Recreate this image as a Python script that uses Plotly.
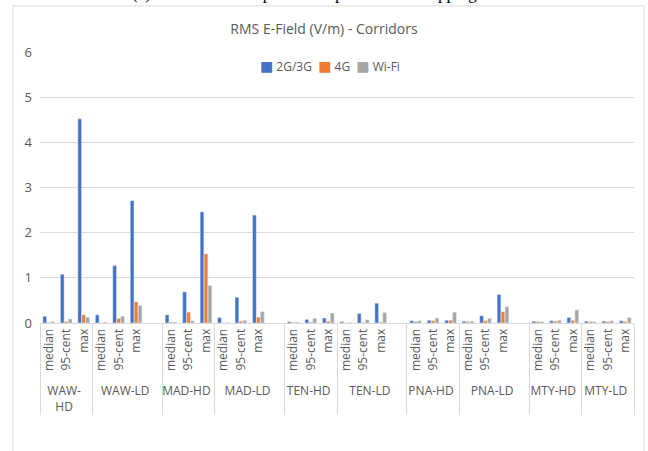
import plotly.graph_objects as go

# sites (outer labels) and stats (inner labels)
sites = ['WAW-<br>HD', 'WAW-LD', 'MAD-HD', 'MAD-LD', 'TEN-HD',
         'TEN-LD', 'PNA-HD', 'PNA-LD', 'MTY-HD', 'MTY-LD']
stats = ['median', '95-cent', 'max']

# values per site: [median, 95-cent, max]
g2g3g = [[0.15, 1.08, 4.52], [0.18, 1.27, 2.71], [0.18, 0.69, 2.46], [0.12, 0.57, 2.39],
         [0.03, 0.08, 0.11], [0.03, 0.21, 0.44], [0.05, 0.06, 0.06], [0.04, 0.16, 0.63],
         [0.04, 0.05, 0.12], [0.04, 0.04, 0.05]]
g4g = [[0.01, 0.03, 0.18], [0.00, 0.10, 0.47], [0.02, 0.24, 1.53], [0.00, 0.04, 0.13],
       [0.01, 0.02, 0.04], [0.00, 0.01, 0.02], [0.03, 0.05, 0.06], [0.03, 0.05, 0.25],
       [0.03, 0.04, 0.06], [0.03, 0.03, 0.03]]
wifi = [[0.03, 0.09, 0.13], [0.02, 0.15, 0.39], [0.02, 0.05, 0.83], [0.01, 0.06, 0.25],
        [0.02, 0.10, 0.22], [0.01, 0.07, 0.23], [0.05, 0.11, 0.24], [0.04, 0.10, 0.36],
        [0.03, 0.06, 0.29], [0.03, 0.05, 0.12]]

series = ['2G/3G', '4G', 'Wi-Fi']
colors = ['#4472C4', '#ED7D31', '#A5A5A5']

# the LD sites carry an empty spacer category (as in the source sheet), except the last one
spacer_after = ['WAW-LD', 'MAD-LD', 'TEN-LD', 'PNA-LD']

outer, inner = [], []
ys = [[], [], []]
for i, s in enumerate(sites):
    for j, st in enumerate(stats):
        outer.append(s)
        inner.append(st)
        for k, src in enumerate([g2g3g, g4g, wifi]):
            ys[k].append(src[i][j])
    if s in spacer_after:
        outer.append(s)
        inner.append(' ')
        for k in range(3):
            ys[k].append(None)

grey_txt = '#595959'
font = 'Open Sans'

fig = go.Figure()
for k in range(3):
    fig.add_trace(go.Bar(x=[outer, inner], y=ys[k], name=series[k],
                         marker_color=colors[k], showlegend=False))

fig.update_layout(
    width=648, height=451,
    margin=dict(l=40, r=14, t=52, b=128),
    plot_bgcolor='white', paper_bgcolor='white',
    barmode='group', bargap=0.32, bargroupgap=0.05,
    font=dict(family=font, color=grey_txt, size=12),
    title=dict(text='RMS E-Field (V/m) - Corridors', x=0.5, xanchor='center',
               y=1 - 29 / 451, yanchor='middle', yref='container',
               font=dict(size=14, color=grey_txt, family=font)),
)

fig.update_xaxes(
    type='multicategory',
    tickangle=-90,
    showline=True, linecolor='#D9D9D9', linewidth=1,
    showgrid=False,
    showdividers=True, dividercolor='#D9D9D9', dividerwidth=1,
    tickfont=dict(size=12, color=grey_txt),
)
fig.update_yaxes(
    range=[0, 6], dtick=1,
    gridcolor='#D9D9D9', gridwidth=1,
    zeroline=False, showline=False,
    ticklabelstandoff=7,
    tickfont=dict(size=13, color=grey_txt),
)

# compact spreadsheet-style legend
legend_txt = '&nbsp;&nbsp;'.join(
    f"<span style=\"font-family:'DejaVu Sans';font-size:14px;color:{c}\">■</span> {n}"
    for n, c in zip(series, colors))
fig.add_annotation(text=legend_txt, xref='paper', yref='paper', x=0.488, y=0.948,
                   xanchor='center', yanchor='middle', showarrow=False,
                   font=dict(size=12, color=grey_txt, family=font))

# chart frame, like the spreadsheet chart border
fig.add_shape(type='rect', xref='paper', yref='paper',
              x0=-0.0455, x1=1.017, y0=-0.6, y1=1.17,
              line=dict(color='#D9D9D9', width=1), layer='below')

# cut-off caption from the page above the chart
fig.add_annotation(text='(c) RMS E-field exposure snapshot when mapping corridors',
                   xref='paper', yref='paper', x=0.5, y=1.215, showarrow=False,
                   yanchor='middle', font=dict(family='Liberation Serif', size=17, color='black'))

fig.write_html("out.html", config={'displayModeBar': False},
               post_script="document.body.style.margin='0';")
